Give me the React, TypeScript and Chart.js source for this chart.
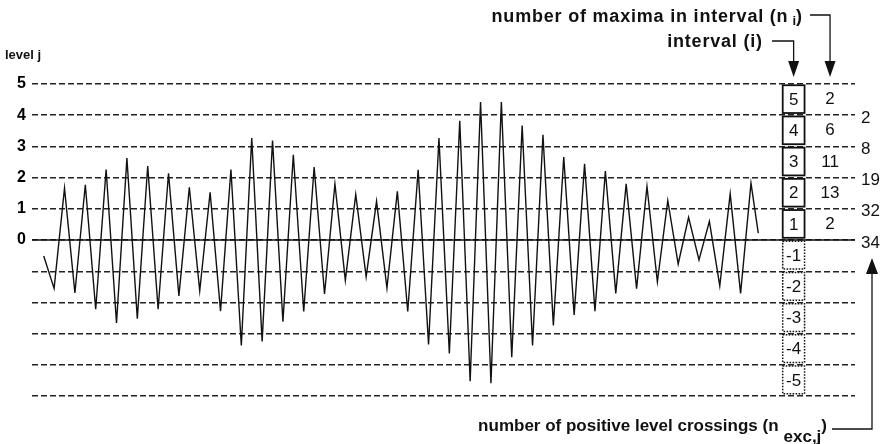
import React, { useEffect, useRef } from "react";
import { Chart, registerables } from "chart.js";

Chart.register(...registerables);

// ---- data ----
const levelTicks = [-5, -4, -3, -2, -1, 0, 1, 2, 3, 4, 5];
const labelledLevels = [0, 1, 2, 3, 4, 5];

// time (half-cycle index) and level of the load signal (turning points)
const signalTime = [
  0, 1, 2, 3, 4, 5, 6, 7, 8, 9, 10, 11, 12, 13, 14, 15, 16, 17, 18, 19, 20,
  21, 22, 23, 24, 25, 26, 27, 28, 29, 30, 31, 32, 33, 34, 35, 36, 37, 38, 39,
  40, 41, 42, 43, 44, 45, 46, 47, 48, 49, 50, 51, 52, 53, 54, 55, 56, 57, 58,
  59, 60, 61, 62, 63, 64, 65, 66, 67, 68, 68.7,
];
const signalLevel = [
  -0.51, -1.55, 1.66, -1.7, 1.77, -2.22, 2.26, -2.66, 2.63, -2.52, 2.37,
  -2.22, 2.14, -1.79, 1.69, -1.63, 1.53, -2.28, 2.26, -3.38, 3.27, -3.25,
  3.19, -2.62, 2.73, -2.29, 2.34, -1.73, 1.8, -1.29, 1.46, -1.18, 1.24, -1.54,
  1.56, -2.29, 2.25, -3.35, 3.27, -3.64, 3.82, -4.53, 4.42, -4.59, 4.42,
  -3.76, 3.67, -3.38, 3.37, -2.74, 2.66, -2.4, 2.44, -2.28, 2.21, -1.71, 1.8,
  -1.56, 1.72, -1.34, 1.26, -0.77, 0.73, -0.64, 0.6, -1.47, 1.48, -1.71,
  1.82, 0.22,
];

// intervals (i) and number of maxima in each positive interval (n_i)
const intervals = [5, 4, 3, 2, 1, -1, -2, -3, -4, -5];
const maximaIntervals = [5, 4, 3, 2, 1];
const maximaCounts = [2, 6, 11, 13, 2];

// positive level crossings n_exc,j per level j
const crossingLevels = [4, 3, 2, 1, 0];
const crossingCounts = [2, 8, 19, 32, 34];

// axis range (time units)
const X_MIN = -1.125;
const X_MAX = 78;
const BOX_T0 = 71.05;
const BOX_T1 = 73.15;
const NI_T = 75.6;

const FONT = '"Liberation Sans", Arial, Helvetica, sans-serif';

function arrowDown(ctx: CanvasRenderingContext2D, x: number, tipY: number) {
  ctx.beginPath();
  ctx.moveTo(x - 5.5, tipY - 16);
  ctx.lineTo(x + 5.5, tipY - 16);
  ctx.lineTo(x, tipY);
  ctx.closePath();
  ctx.fill();
}
function arrowUp(ctx: CanvasRenderingContext2D, x: number, tipY: number) {
  ctx.beginPath();
  ctx.moveTo(x - 6, tipY + 16);
  ctx.lineTo(x + 6, tipY + 16);
  ctx.lineTo(x, tipY);
  ctx.closePath();
  ctx.fill();
}

// width of spaced text
function spacedWidth(ctx: CanvasRenderingContext2D, s: string, sp: number) {
  let w = 0;
  for (const ch of s) w += ctx.measureText(ch).width + sp;
  return w;
}
function drawSpaced(
  ctx: CanvasRenderingContext2D,
  s: string,
  x: number,
  y: number,
  sp: number
) {
  let cx = x;
  for (const ch of s) {
    ctx.fillText(ch, cx, y);
    cx += ctx.measureText(ch).width + sp;
  }
  return cx - x;
}

const annotPlugin = {
  id: "annot",
  afterDraw(chart: any) {
    const { ctx, chartArea } = chart;
    const xs = chart.scales.x;
    const ys = chart.scales.y;
    ctx.save();
    ctx.fillStyle = "#111";
    ctx.strokeStyle = "#111";

    // boxes with interval numbers
    const bx0 = xs.getPixelForValue(BOX_T0);
    const bx1 = xs.getPixelForValue(BOX_T1);
    intervals.forEach((j) => {
      const upper = j > 0 ? j : j + 1;
      const top = ys.getPixelForValue(upper - 0.04);
      const bot = ys.getPixelForValue(upper - 1 + 0.07);
      ctx.save();
      if (j > 0) {
        ctx.lineWidth = 1.8;
        ctx.setLineDash([]);
      } else {
        ctx.lineWidth = 1.5;
        ctx.setLineDash([1.6, 1.4]);
      }
      ctx.fillStyle = "#fff";
      ctx.fillRect(bx0, top, bx1 - bx0, bot - top);
      ctx.strokeRect(bx0, top, bx1 - bx0, bot - top);
      ctx.restore();
      ctx.font = `17px ${FONT}`;
      ctx.textAlign = "center";
      ctx.textBaseline = "middle";
      ctx.fillText(String(j), (bx0 + bx1) / 2, (top + bot) / 2 + 1);
    });

    // n_i column
    const nix = xs.getPixelForValue(NI_T);
    ctx.font = `17px ${FONT}`;
    ctx.textAlign = "center";
    ctx.textBaseline = "middle";
    maximaIntervals.forEach((j, k) => {
      ctx.fillText(String(maximaCounts[k]), nix, ys.getPixelForValue(j - 0.5));
    });

    // n_exc,j at right
    ctx.textAlign = "left";
    crossingLevels.forEach((j, k) => {
      ctx.fillText(
        String(crossingCounts[k]),
        chartArea.right + 6,
        ys.getPixelForValue(j) + 3
      );
    });

    // "level j"
    ctx.font = `bold 13px ${FONT}`;
    ctx.textAlign = "left";
    ctx.textBaseline = "alphabetic";
    ctx.fillText("level j", 5, 59);

    const boldTop = `bold 18px ${FONT}`;
    const subTop = `bold 13px ${FONT}`;
    const SP = 0.8;
    const boxCx = (bx0 + bx1) / 2;
    const topArrowTip = ys.getPixelForValue(5) - 7;
    ctx.lineWidth = 1.3;

    // top line 1: number of maxima in interval (n_i)
    {
      ctx.font = boldTop;
      const main = "number of maxima in interval (n";
      const wMain = spacedWidth(ctx, main, SP);
      ctx.font = subTop;
      const wSub = ctx.measureText("i").width;
      ctx.font = boldTop;
      const wPar = ctx.measureText(")").width;
      const endX = 802;
      const gap = 4;
      const startX = endX - wPar - wSub - gap - wMain;
      const base = 22;
      drawSpaced(ctx, main, startX, base, SP);
      ctx.font = subTop;
      ctx.fillText("i", startX + wMain + gap, base + 3);
      ctx.font = boldTop;
      ctx.fillText(")", startX + wMain + gap + wSub, base);
      const ly = 15;
      ctx.beginPath();
      ctx.moveTo(endX + 8, ly);
      ctx.lineTo(nix, ly);
      ctx.lineTo(nix, topArrowTip - 14);
      ctx.stroke();
      arrowDown(ctx, nix, topArrowTip);
    }
    // top line 2: interval (i)
    {
      ctx.font = boldTop;
      const txt = "interval (i)";
      const w = spacedWidth(ctx, txt, SP) - SP;
      const endX = 762;
      drawSpaced(ctx, txt, endX - w, 47, SP);
      const ly = 41;
      ctx.beginPath();
      ctx.moveTo(endX + 10, ly);
      ctx.lineTo(boxCx, ly);
      ctx.lineTo(boxCx, topArrowTip - 14);
      ctx.stroke();
      arrowDown(ctx, boxCx, topArrowTip);
    }
    // bottom: number of positive level crossings (n_exc,j)
    {
      const boldBot = `bold 17px ${FONT}`;
      ctx.font = boldBot;
      const main = "number of positive level crossings (n";
      const wMain = ctx.measureText(main).width;
      const wSub = ctx.measureText("exc,j").width;
      const wPar = ctx.measureText(")").width;
      const endX = 827;
      const gap = 5;
      const startX = endX - wPar - wSub - gap - wMain;
      const base = 431;
      ctx.fillText(main, startX, base);
      ctx.fillText("exc,j", startX + wMain + gap, base + 11);
      ctx.fillText(")", startX + wMain + gap + wSub, base);
      const ax = chartArea.right + 17;
      const ly = 429;
      const tip = ys.getPixelForValue(0) + 18;
      ctx.beginPath();
      ctx.moveTo(endX + 5, ly);
      ctx.lineTo(ax, ly);
      ctx.lineTo(ax, tip + 14);
      ctx.stroke();
      arrowUp(ctx, ax, tip);
    }
    ctx.restore();
  },
};

export default function App() {
  const ref = useRef<HTMLCanvasElement | null>(null);
  useEffect(() => {
    if (!ref.current) return;
    const chart = new Chart(ref.current, {
      type: "line",
      data: {
        datasets: [
          {
            label: "zero",
            data: [
              { x: X_MIN, y: 0 },
              { x: X_MAX, y: 0 },
            ],
            borderColor: "#111",
            borderWidth: 1.5,
            pointRadius: 0,
          },
          {
            label: "signal",
            data: signalTime.map((t, i) => ({ x: t, y: signalLevel[i] })),
            borderColor: "#111",
            borderWidth: 1.4,
            pointRadius: 0,
            tension: 0,
          },
        ],
      },
      options: {
        responsive: false,
        animation: false,
        events: [],
        layout: { padding: { top: 84, bottom: 48, right: 30, left: 0 } },
        plugins: {
          legend: { display: false },
          tooltip: { enabled: false },
        },
        scales: {
          x: { type: "linear", min: X_MIN, max: X_MAX, display: false },
          y: {
            type: "linear",
            min: -5,
            max: 5,
            afterBuildTicks: (scale: any) => {
              scale.ticks = levelTicks.map((v) => ({ value: v }));
            },
            afterFit: (scale: any) => {
              scale.width = 32;
            },
            ticks: {
              padding: 6,
              color: "#000",
              font: { family: FONT, size: 16, weight: "bold" },
              callback: (v: any) =>
                labelledLevels.includes(Number(v)) ? String(v) : "",
            },
            grid: { color: "#222", lineWidth: 1.4, drawTicks: false },
            border: { display: false, dash: [6, 3] },
          },
        },
      },
      plugins: [annotPlugin],
    });
    return () => chart.destroy();
  }, []);
  return (
    <div style={{ position: "absolute", left: 0, top: 0, width: 885, height: 444, background: "#fff" }}>
      <canvas ref={ref} width={885} height={444} />
    </div>
  );
}
